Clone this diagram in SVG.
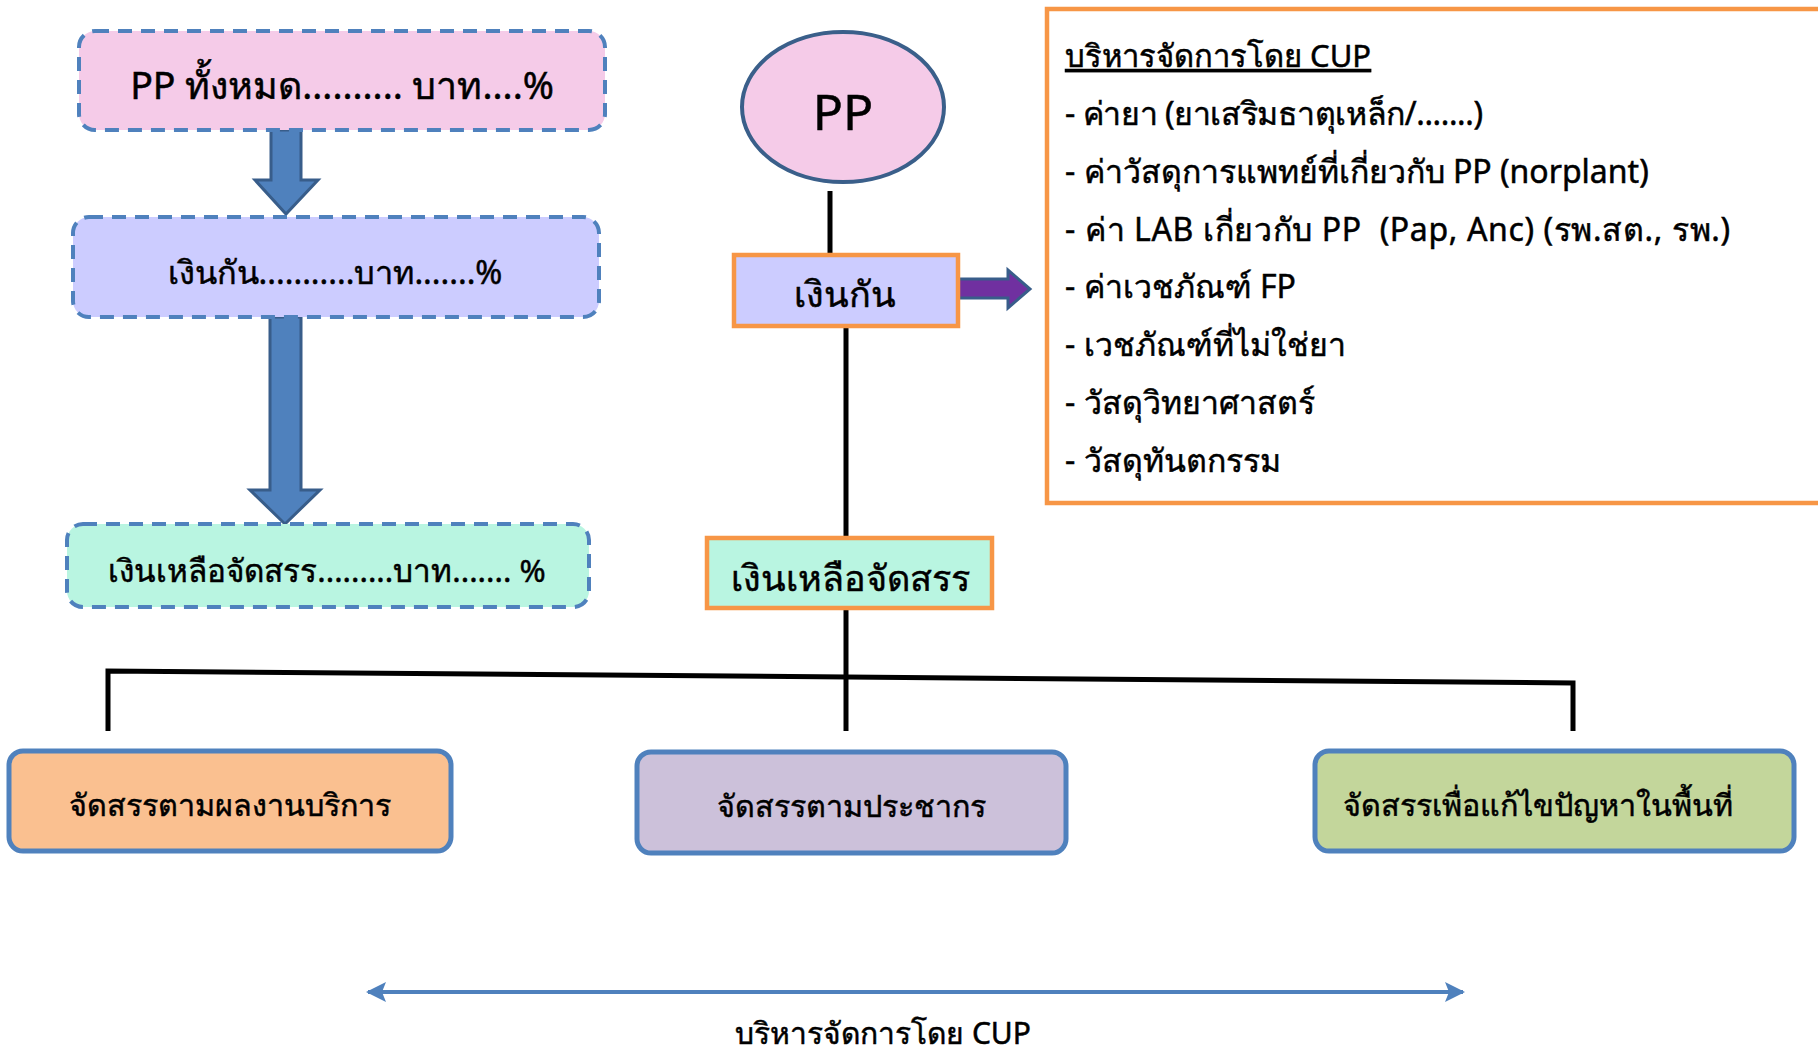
<svg xmlns="http://www.w3.org/2000/svg" width="1818" height="1050" viewBox="0 0 1818 1050">
<defs>
<style>
text{font-family:"Noto Sans","Liberation Sans",sans-serif;fill:#000;stroke:#000;stroke-width:0.5;}
.dash{stroke:#4F81BD;stroke-width:4;stroke-dasharray:14 9;}
.blk{fill:#4F81BD;stroke:#385D8A;stroke-width:3;}
.orn{stroke:#F79646;stroke-width:4.5;}
.bot{stroke:#4F81BD;stroke-width:5;}
.ln{stroke:#000;stroke-width:5;fill:none;}
.c{text-anchor:middle;}
</style>
<marker id="ah" viewBox="0 0 10 10" refX="9" refY="5" markerWidth="5" markerHeight="5" orient="auto-start-reverse">
<path d="M0,0 L10,5 L0,10 L2,5 Z" fill="#4F81BD"/>
</marker>
</defs>
<g id="connectors">
<path class="ln" d="M830,191 V255"/>
<path class="ln" d="M846,326 V537"/>
<path class="ln" d="M846,608 V731"/>
<path class="ln" d="M108,731 V671 L1573,683 V731"/>
<path d="M958,279 H1008 V270 L1030,289 L1008,308 V298 H958 Z" fill="#7030A0" stroke="#385D8A" stroke-width="3"/>
<path class="blk" d="M271,130 H301 V180 H318 L286,214 L255,180 H271 Z"/>
<path class="blk" d="M270,317 H301 V490 H320 L285,524 L250,490 H270 Z"/>
<path d="M368,992 H1463" stroke="#4F81BD" stroke-width="4" marker-start="url(#ah)" marker-end="url(#ah)"/>
</g>
<g id="pp-total">
<rect class="dash" x="79" y="31" width="526" height="99" rx="16" fill="#F5CBE8"/>
<text class="c" x="342" y="99" font-size="37.5">PP ทั้งหมด.......... บาท....%</text>
</g>
<g id="guarantee-total">
<rect class="dash" x="73" y="217" width="526" height="100" rx="16" fill="#CCCCFF"/>
<text class="c" x="335" y="284" font-size="32.5">เงินกัน...........บาท.......%</text>
</g>
<g id="remaining-total">
<rect class="dash" x="67" y="524" width="522" height="83" rx="16" fill="#B9F5E1"/>
<text class="c" x="327" y="582" font-size="31.5">เงินเหลือจัดสรร.........บาท....... %</text>
</g>
<g id="pp">
<ellipse cx="843" cy="107" rx="101" ry="75" fill="#F5CBE8" stroke="#3A5F8A" stroke-width="4"/>
<text class="c" x="843" y="130" font-size="50">PP</text>
</g>
<g id="guarantee">
<rect class="orn" x="734" y="255" width="224" height="71" fill="#CCCCFF"/>
<text class="c" x="845" y="307" font-size="36">เงินกัน</text>
</g>
<g id="remaining">
<rect class="orn" x="707" y="538" width="285" height="70" fill="#B9F5E1"/>
<text class="c" x="850" y="591" font-size="36">เงินเหลือจัดสรร</text>
</g>
<g id="cup-list">
<rect class="orn" x="1047" y="9" width="790" height="494" fill="#fff"/>
<text x="1065" y="67" font-size="31" text-decoration="underline">บริหารจัดการโดย CUP</text>
<text x="1065" y="125" font-size="32" textLength="418">- ค่ายา (ยาเสริมธาตุเหล็ก/.......)</text>
<text x="1065" y="183" font-size="32">- ค่าวัสดุการแพทย์ที่เกี่ยวกับ PP (norplant)</text>
<text x="1065" y="241" font-size="32" xml:space="preserve" textLength="665">- ค่า LAB เกี่ยวกับ PP  (Pap, Anc) (รพ.สต., รพ.)</text>
<text x="1065" y="298" font-size="32">- ค่าเวชภัณฑ์ FP</text>
<text x="1065" y="356" font-size="32">- เวชภัณฑ์ที่ไม่ใช่ยา</text>
<text x="1065" y="414" font-size="32">- วัสดุวิทยาศาสตร์</text>
<text x="1065" y="472" font-size="32">- วัสดุทันตกรรม</text>
</g>
<g id="by-service">
<rect class="bot" x="9" y="751" width="442" height="100" rx="14" fill="#FAC090"/>
<text class="c" x="230" y="816" font-size="30.5">จัดสรรตามผลงานบริการ</text>
</g>
<g id="by-population">
<rect class="bot" x="637" y="752" width="429" height="101" rx="14" fill="#CCC1DA"/>
<text class="c" x="851" y="817" font-size="30.5">จัดสรรตามประชากร</text>
</g>
<g id="by-area">
<rect class="bot" x="1315" y="751" width="479" height="100" rx="14" fill="#C3D69B"/>
<text class="c" x="1538" y="816" font-size="30.5">จัดสรรเพื่อแก้ไขปัญหาในพื้นที่</text>
</g>
<g id="cup-label">
<text class="c" x="883" y="1044" font-size="30">บริหารจัดการโดย CUP</text>
</g>
</svg>
